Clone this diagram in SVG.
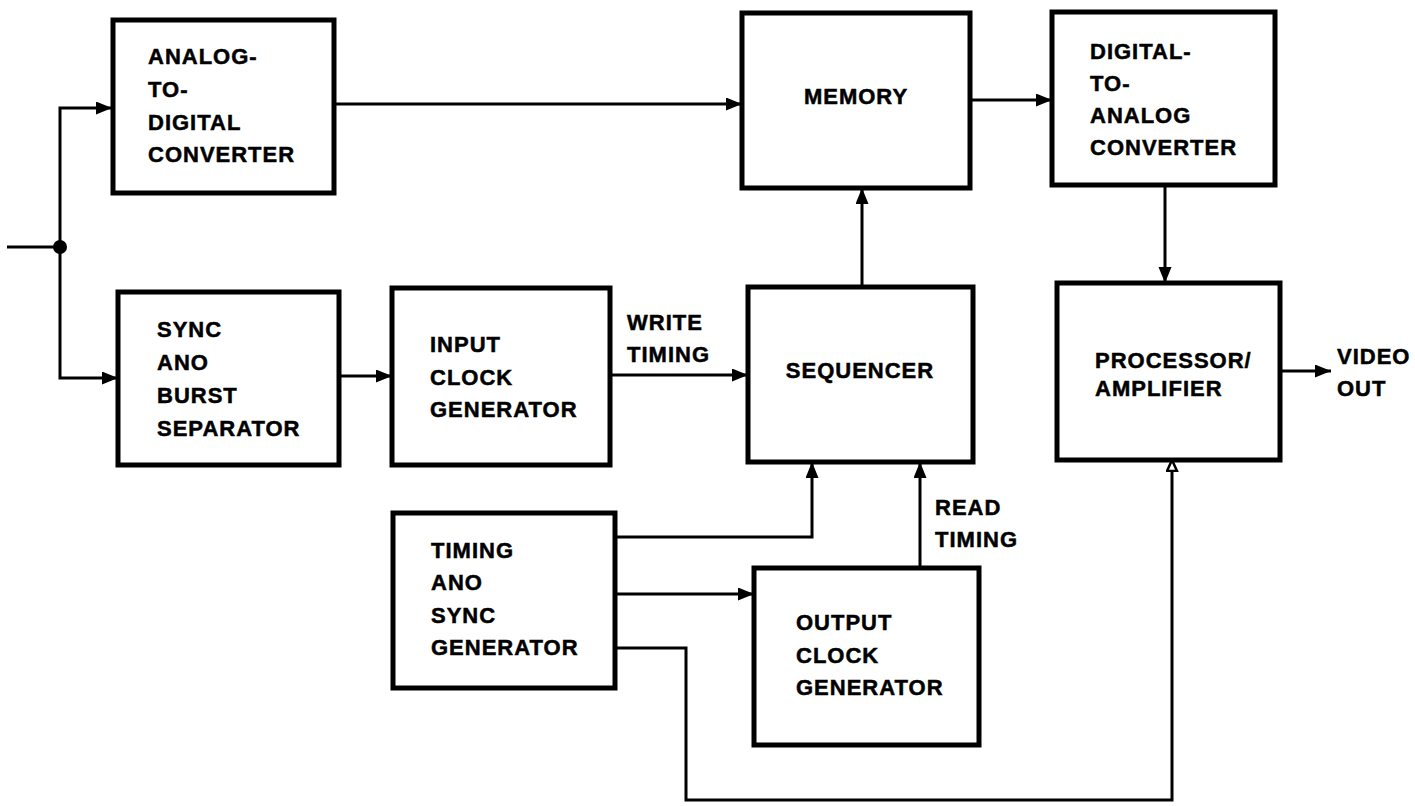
<svg xmlns="http://www.w3.org/2000/svg" width="1415" height="806" viewBox="0 0 1415 806">
<defs>
<style>
.box{fill:#fff;stroke:#000;stroke-width:5}
.lbl{font-family:"Liberation Sans",Arial,sans-serif;font-weight:bold;font-size:22px;letter-spacing:1px;fill:#000;stroke:#000;stroke-width:0.5}
.wire{fill:none;stroke:#000;stroke-width:3}
.arr{marker-end:url(#ah)}
</style>
<marker id="ah" markerUnits="userSpaceOnUse" markerWidth="17" markerHeight="14" refX="16" refY="6.5" orient="auto">
<path d="M0,0 L16,6.5 L0,13 z" fill="#000"/>
</marker>
<marker id="ho" markerUnits="userSpaceOnUse" markerWidth="14" markerHeight="14" refX="12" refY="6" orient="auto">
<path d="M1,1 L12,6 L1,11 z" fill="#fff" stroke="#000" stroke-width="2.5"/>
</marker>
</defs>
<rect width="1415" height="806" fill="#fff"/>

<g id="connectors">
<path class="wire" d="M7,247 H60"/>
<circle cx="60" cy="247" r="7" fill="#000"/>
<path class="wire arr" d="M60,247 V108 H112"/>
<path class="wire arr" d="M60,247 V378 H118"/>
<path class="wire arr" d="M335,104 H742"/>
<path class="wire arr" d="M970,100 H1052"/>
<path class="wire arr" d="M1165,185 V283"/>
<path class="wire arr" d="M339,376 H392"/>
<path class="wire arr" d="M610,375 H748"/>
<path class="wire arr" d="M862,287 V188"/>
<path class="wire arr" d="M615,537 H812 V462"/>
<path class="wire arr" d="M615,594 H754"/>
<path class="wire arr" d="M920,568 V462"/>
<path class="wire" d="M615,648 H686 V800 H1172 V470"/>
<path class="wire" d="M1172,472 V460" marker-end="url(#ho)"/>
<path class="wire arr" d="M1280,371 H1331"/>
<text class="lbl" x="627" y="330">WRITE</text>
<text class="lbl" x="627" y="362">TIMING</text>
<text class="lbl" x="935" y="515">READ</text>
<text class="lbl" x="935" y="547">TIMING</text>
<text class="lbl" x="1337" y="364">VIDEO</text>
<text class="lbl" x="1337" y="396">OUT</text>
</g>

<g id="adc">
<rect class="box" x="113" y="20" width="221" height="173"/>
<text class="lbl" x="148" y="64">ANALOG-</text>
<text class="lbl" x="148" y="97">TO-</text>
<text class="lbl" x="148" y="130">DIGITAL</text>
<text class="lbl" x="148" y="162">CONVERTER</text>
</g>

<g id="memory">
<rect class="box" x="742" y="13" width="228" height="175"/>
<text class="lbl" x="856" y="104" text-anchor="middle">MEMORY</text>
</g>

<g id="dac">
<rect class="box" x="1052" y="12" width="223" height="173"/>
<text class="lbl" x="1090" y="59">DIGITAL-</text>
<text class="lbl" x="1090" y="91">TO-</text>
<text class="lbl" x="1090" y="123">ANALOG</text>
<text class="lbl" x="1090" y="155">CONVERTER</text>
</g>

<g id="sync-separator">
<rect class="box" x="118" y="292" width="221" height="173"/>
<text class="lbl" x="157" y="337">SYNC</text>
<text class="lbl" x="157" y="370">ANO</text>
<text class="lbl" x="157" y="403">BURST</text>
<text class="lbl" x="157" y="436">SEPARATOR</text>
</g>

<g id="input-clock">
<rect class="box" x="392" y="288" width="218" height="177"/>
<text class="lbl" x="430" y="352">INPUT</text>
<text class="lbl" x="430" y="385">CLOCK</text>
<text class="lbl" x="430" y="417">GENERATOR</text>
</g>

<g id="sequencer">
<rect class="box" x="748" y="287" width="225" height="175"/>
<text class="lbl" x="860" y="378" text-anchor="middle">SEQUENCER</text>
</g>

<g id="processor">
<rect class="box" x="1057" y="283" width="223" height="177"/>
<text class="lbl" x="1095" y="368">PROCESSOR/</text>
<text class="lbl" x="1095" y="396">AMPLIFIER</text>
</g>

<g id="timing-sync">
<rect class="box" x="393" y="513" width="222" height="175"/>
<text class="lbl" x="431" y="558">TIMING</text>
<text class="lbl" x="431" y="590">ANO</text>
<text class="lbl" x="431" y="623">SYNC</text>
<text class="lbl" x="431" y="655">GENERATOR</text>
</g>

<g id="output-clock">
<rect class="box" x="754" y="568" width="225" height="177"/>
<text class="lbl" x="796" y="630">OUTPUT</text>
<text class="lbl" x="796" y="663">CLOCK</text>
<text class="lbl" x="796" y="695">GENERATOR</text>
</g>
</svg>
